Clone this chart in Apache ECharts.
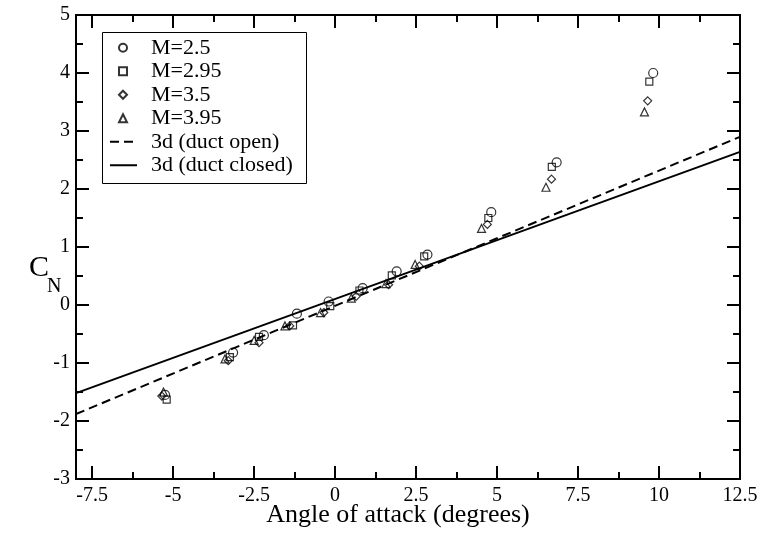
<!DOCTYPE html>
<html>
<head>
<meta charset="utf-8">
<script src="https://cdn.jsdelivr.net/npm/echarts@6/dist/echarts.min.js"></script>
<style>html,body{margin:0;padding:0;background:#fff}#c{width:763px;height:537px}</style>
</head>
<body>
<div id="c"></div>
<script>
// ---- data ----
const xTicks = [-7.5, -5, -2.5, 0, 2.5, 5, 7.5, 10, 12.5];
const xMinorTicks = [-6.25, -3.75, -1.25, 1.25, 3.75, 6.25, 8.75, 11.25];
const seriesNames = ['M=2.5', 'M=2.95', 'M=3.5', 'M=3.95', '3d (duct open)', '3d (duct closed)'];
const m25 = [[-5.25,-1.55],[-3.15,-0.82],[-2.2,-0.52],[-1.18,-0.15],[-0.2,0.06],[0.85,0.29],[1.9,0.58],[2.85,0.87],[4.82,1.6],[6.84,2.46],[9.82,4.0]];
const m295 = [[-5.2,-1.63],[-3.25,-0.9],[-2.35,-0.55],[-1.3,-0.35],[-0.15,-0.02],[0.75,0.25],[1.75,0.51],[2.75,0.84],[4.73,1.5],[6.69,2.38],[9.7,3.85]];
const m35 = [[-5.35,-1.57],[-3.3,-0.96],[-2.35,-0.65],[-1.4,-0.36],[-0.35,-0.13],[0.65,0.15],[1.65,0.35],[2.6,0.67],[4.7,1.39],[6.68,2.17],[9.65,3.52]];
const m395 = [[-5.3,-1.5],[-3.4,-0.93],[-2.5,-0.61],[-1.55,-0.36],[-0.45,-0.13],[0.5,0.12],[1.57,0.37],[2.47,0.7],[4.52,1.32],[6.51,2.03],[9.55,3.33]];
const ductOpen = [[-8,-1.88],[12.5,2.9]];
const ductClosed = [[-8,-1.52],[12.5,2.64]];

const FONT = '"Liberation Serif", "Times New Roman", serif';
const chart = echarts.init(document.getElementById('c'));

function xAx(pos, ticks, len, labels) {
  return {
    type: 'value', position: pos, min: -8, max: 12.5,
    axisLine: { show: true, onZero: false, lineStyle: { color: '#000', width: 2 } },
    axisTick: { show: true, inside: true, length: len, customValues: ticks, lineStyle: { color: '#000', width: 2 } },
    axisLabel: labels ? { show: true, customValues: ticks, color: '#000', fontFamily: FONT, fontSize: 20, margin: 7 } : { show: false },
    splitLine: { show: false }
  };
}
function yAx(pos, labels) {
  return {
    type: 'value', position: pos, min: -3, max: 5, interval: 1,
    axisLine: { show: true, onZero: false, lineStyle: { color: '#000', width: 2 } },
    axisTick: { show: true, inside: true, length: 13, lineStyle: { color: '#000', width: 2 } },
    minorTick: { show: true, splitNumber: 2, length: 7, lineStyle: { color: '#000', width: 2 } },
    axisLabel: labels ? { show: true, color: '#000', fontFamily: FONT, fontSize: 20, margin: 6 } : { show: false },
    splitLine: { show: false }, minorSplitLine: { show: false }
  };
}
const sc = (name, data, symbol, size) => ({
  type: 'scatter', name, data, symbol, symbolSize: size, xAxisIndex: 0, yAxisIndex: 0,
  itemStyle: { color: 'rgba(0,0,0,0)', borderColor: '#000', borderWidth: 1.2 }, z: 3
});
const ln = (name, data, type) => ({
  type: 'line', name, data, symbol: 'none', showSymbol: false, z: 2,
  itemStyle: { color: 'rgba(0,0,0,0)', borderColor: 'rgba(0,0,0,0)', borderWidth: 0 },
  lineStyle: { color: '#000', width: 2, type }
});
const legendText = { color: '#000', fontFamily: FONT, fontSize: 22, lineHeight: 23.5 };

chart.setOption({
  animation: false,
  backgroundColor: '#fff',
  grid: { left: 76, right: 23, top: 15, bottom: 58 },
  xAxis: [
    xAx('bottom', xTicks, 13, true),
    xAx('bottom', xMinorTicks, 7, false),
    xAx('top', xTicks, 13, false),
    xAx('top', xMinorTicks, 7, false)
  ],
  yAxis: [yAx('left', true), yAx('right', false)],
  legend: [
    { left: 118, top: 36, orient: 'vertical', padding: 0, itemWidth: 8, itemHeight: 8, itemGap: 0,
      textStyle: Object.assign({ padding: [0, 0, 0, 19] }, legendText),
      data: seriesNames.slice(0, 4) },
    { left: 109, top: 130, orient: 'vertical', padding: 0, itemWidth: 27, itemHeight: 8, itemGap: 0,
      textStyle: Object.assign({ padding: [0, 0, 0, 9] }, legendText),
      data: seriesNames.slice(4) }
  ],
  graphic: [
    { type: 'rect', silent: true, z: 0, shape: { x: 102.5, y: 32.5, width: 204, height: 151 },
      style: { fill: 'none', stroke: '#000', lineWidth: 1 } },
    { type: 'text', left: 29, top: 253, style: { text: 'C', font: '30px ' + FONT, fill: '#000' } },
    { type: 'text', left: 47, top: 277, style: { text: 'N', font: '20px ' + FONT, fill: '#000' } },
    { type: 'text', x: 398, y: 515, style: { text: 'Angle of attack (degrees)', font: '26px ' + FONT, fill: '#000', align: 'center', verticalAlign: 'middle' } }
  ],
  series: [
    sc(seriesNames[0], m25, 'circle', 9),
    sc(seriesNames[1], m295, 'rect', 7),
    sc(seriesNames[2], m35, 'diamond', 8),
    sc(seriesNames[3], m395, 'triangle', 8),
    ln(seriesNames[4], ductOpen, [9, 5]),
    ln(seriesNames[5], ductClosed, 'solid')
  ]
});
</script>
</body>
</html>
